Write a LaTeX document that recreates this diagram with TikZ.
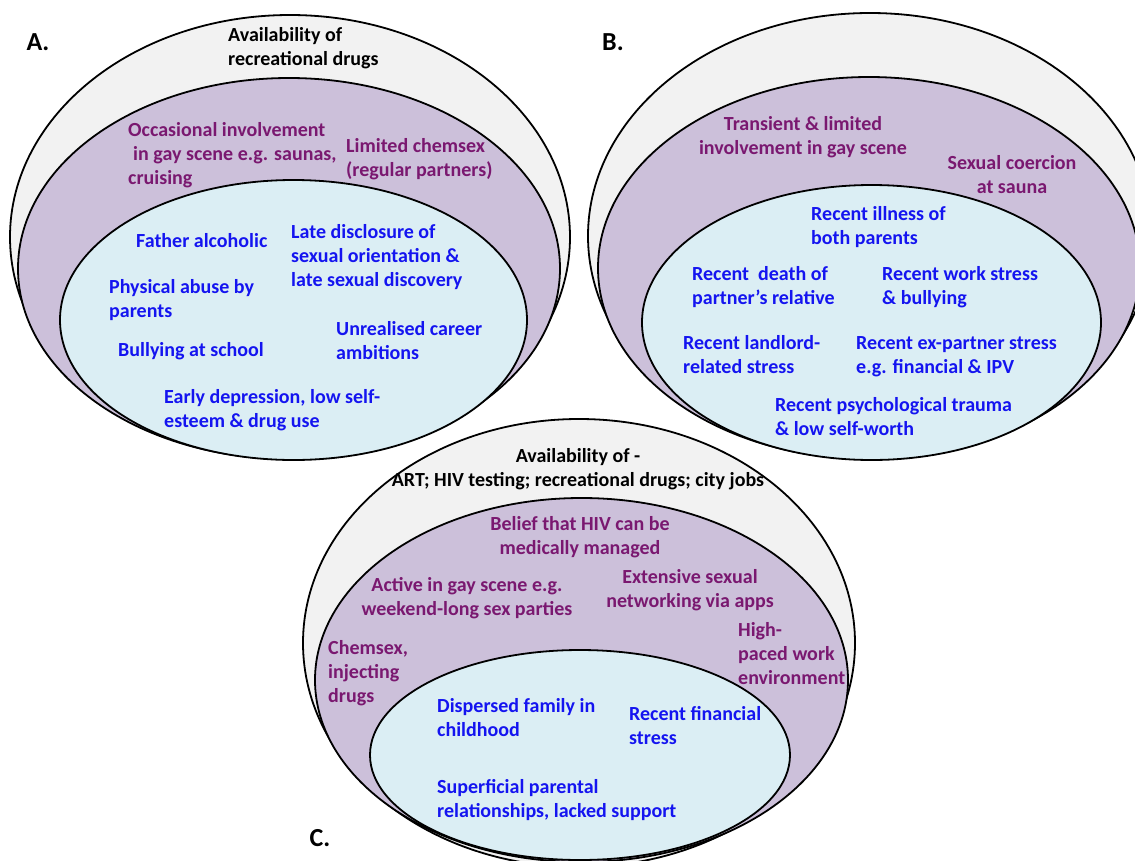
\documentclass[tikz,border=0pt]{standalone}
\usepackage{fontspec}
\setmainfont{Carlito}
\definecolor{ctxgray}{RGB}{242,242,242}
\definecolor{socpurple}{RGB}{204,192,218}
\definecolor{perblue}{RGB}{219,238,244}
\definecolor{soctext}{RGB}{122,24,112}
\definecolor{pertext}{RGB}{20,20,240}
\tikzset{
  zone/.style={draw=black, line width=1.8pt},
  outerzone/.style={zone, fill=ctxgray},
  midzone/.style={zone, fill=socpurple},
  innerzone/.style={zone, fill=perblue},
  lbl/.style={inner sep=0pt, font=\fontsize{20}{24}\selectfont\bfseries},
  ctxlbl/.style={lbl, text=black},
  soclbl/.style={lbl, text=soctext},
  perlbl/.style={lbl, text=pertext},
  panel/.style={inner sep=0pt, font=\fontsize{26}{30}\selectfont\bfseries}
}
\begin{document}
\begin{tikzpicture}[x=1pt, y=-1pt]
    \useasboundingbox (0,0) rectangle (1135,860);
    \clip (0,0) rectangle (1135,860);

    % A. childhood
    \draw[outerzone] (290,237) ellipse (280pt and 222pt);
    \draw[midzone] (289,268.5) ellipse (271pt and 190.5pt);
    \draw[innerzone] (293.5,320) ellipse (233.5pt and 140pt);
    \node[panel, anchor=center] (labA) at (38,42) {A.};
    \node[ctxlbl, anchor=base west, align=left] (availA) at (228,65) {Availability of\\recreational drugs};
    \node[soclbl, anchor=base west, align=left] (occasional) at (128,184) {Occasional involvement\\\hspace{0.25em}in gay scene e.g. saunas,\\cruising};
    \node[soclbl, anchor=base west, align=left] (limited) at (346,176) {Limited chemsex\\(regular partners)};
    \node[perlbl, anchor=base west, align=left] (father) at (136,247) {Father alcoholic};
    \node[perlbl, anchor=base west, align=left] (disclosure) at (291,286) {Late disclosure of\\sexual orientation \&\\late sexual discovery};
    \node[perlbl, anchor=base west, align=left] (abuse) at (109,317) {Physical abuse by\\parents};
    \node[perlbl, anchor=base west, align=left] (career) at (336,359) {Unrealised career\\ambitions};
    \node[perlbl, anchor=base west, align=left] (bullying) at (118,356) {Bullying at school};
    \node[perlbl, anchor=base west, align=left] (depression) at (164,427) {Early depression, low self-\\esteem \& drug use};

    % B. recent events
    \draw[outerzone] (870,236) ellipse (282pt and 223pt);
    \draw[midzone] (869,268) ellipse (271pt and 191pt);
    \draw[innerzone] (871.5,322.5) ellipse (229.5pt and 137.5pt);
    \node[panel, anchor=center] (labB) at (613,42) {B.};
    \node[soclbl, anchor=base, align=center] (transient) at (803,154) {Transient \& limited\\involvement in gay scene};
    \node[soclbl, anchor=base, align=center] (coercion) at (1012,193) {Sexual coercion\\at sauna};
    \node[perlbl, anchor=base west, align=left] (illness) at (811,244) {Recent illness of\\both parents};
    \node[perlbl, anchor=base west, align=left] (death) at (692,304) {Recent\ \ death of\\partner’s relative};
    \node[perlbl, anchor=base west, align=left] (work) at (882,304) {Recent work stress\\\& bullying};
    \node[perlbl, anchor=base west, align=left] (landlord) at (683,373) {Recent landlord-\\related stress};
    \node[perlbl, anchor=base west, align=left] (expartner) at (856,373) {Recent ex-partner stress\\e.g. financial \& IPV};
    \node[perlbl, anchor=base west, align=left] (trauma) at (775,435) {Recent psychological trauma\\\& low self-worth};

    % C. adulthood in the city
    \draw[outerzone] (579,643) ellipse (276pt and 224pt);
    \draw[midzone] (581.5,680) ellipse (266.5pt and 182pt);
    \draw[innerzone] (580,755) ellipse (210pt and 105pt);
    \node[panel, anchor=center] (labC) at (320,838) {C.};
    \node[ctxlbl, anchor=base, align=center] (availC) at (578,486) {Availability of -\\ART; HIV testing; recreational drugs; city jobs};
    \node[soclbl, anchor=base, align=center] (belief) at (580,554) {Belief that HIV can be\\medically managed};
    \node[soclbl, anchor=base, align=center] (active) at (467,615) {Active in gay scene e.g.\\weekend-long sex parties};
    \node[soclbl, anchor=base, align=center] (apps) at (690,607) {Extensive sexual\\networking via apps};
    \node[soclbl, anchor=base west, align=left] (paced) at (738,684) {High-\\paced work\\environment};
    \node[soclbl, anchor=base west, align=left] (chemsex) at (328,702) {Chemsex,\\injecting\\drugs};
    \node[perlbl, anchor=base west, align=left] (dispersed) at (437,736) {Dispersed family in\\childhood};
    \node[perlbl, anchor=base west, align=left] (financial) at (629,744) {Recent financial\\stress};
    \node[perlbl, anchor=base west, align=left] (superficial) at (437,817) {Superficial parental\\relationships, lacked support};
\end{tikzpicture}
\end{document}
